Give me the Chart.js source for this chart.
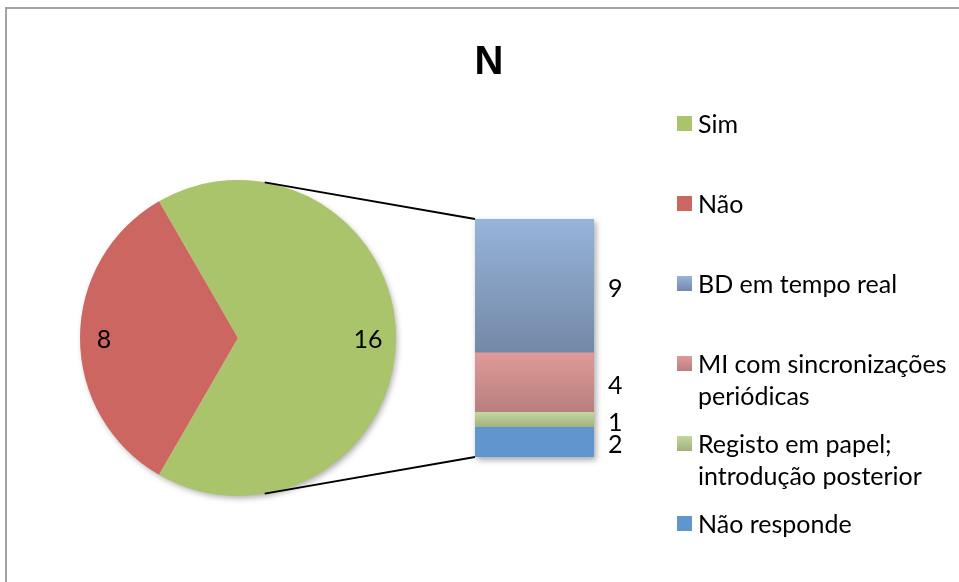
<!DOCTYPE html>
<html>
<head>
<meta charset="utf-8">
<script src="https://cdn.jsdelivr.net/npm/chart.js@4"></script>
<style>
  html, body { margin: 0; padding: 0; background: #fff; overflow: hidden; }
  #wrap { position: relative; width: 959px; height: 582px; overflow: hidden; font-family: Lato, "Open Sans", sans-serif; }
  #frame { position: absolute; left: 5px; top: 7px; width: 1000px; height: 1000px; border: 2px solid #a3a3a3; box-sizing: border-box; }
  canvas { position: absolute; left: 0; top: 0; }
  #title { position: absolute; left: 0; width: 978px; top: 38px; text-align: center; font: bold 40px "Liberation Sans", Arial, sans-serif; color: #000; }
  #legend { position: absolute; left: 677px; top: 107px; width: 282px; }
  .item { position: relative; height: 80px; }
  .box { position: absolute; left: 0; top: 9px; width: 15px; height: 15px; }
  .txt { position: absolute; left: 21px; top: 0; width: 261px; font-size: 25px; line-height: 32px; color: #000; }
</style>
</head>
<body>
<div id="wrap">
  <div id="frame"></div>
  <canvas id="pie" width="959" height="582"></canvas>
  <canvas id="bar" width="959" height="582"></canvas>
  <div id="title">N</div>
  <div id="legend"></div>
</div>
<script>
  // pie data
  const pieLabels = ["Sim", "Não"];
  const pieValues = [16, 8];
  const pieColors = ["#a9c46b", "#cc6660"];

  // bar data (bottom to top)
  const barLabels = ["Não responde", "Registo em papel; introdução posterior", "MI com sincronizações periódicas", "BD em tempo real"];
  const barValues = [2, 1, 4, 9];
  const barTop = ["#5e96cd", "#c4d79c", "#e09a98", "#97b4da"];
  const barBottom = ["#5e96cd", "#a2b07d", "#b77f7e", "#7388a7"];

  const font = "Lato, 'Open Sans', sans-serif";

  const setShadow = (ctx) => {
    ctx.shadowColor = "rgba(0,0,0,0.35)";
    ctx.shadowBlur = 6;
    ctx.shadowOffsetX = 2;
    ctx.shadowOffsetY = 3;
  };

  // soft shadow under the pie + value labels
  const piePlugin = {
    id: "pieExtras",
    beforeDatasetsDraw(chart) {
      const arc = chart.getDatasetMeta(0).data[0];
      const ctx = chart.ctx;
      ctx.save();
      setShadow(ctx);
      ctx.fillStyle = "#fff";
      ctx.beginPath();
      ctx.arc(arc.x, arc.y, arc.outerRadius - 1, 0, Math.PI * 2);
      ctx.fill();
      ctx.restore();
    },
    afterDatasetsDraw(chart) {
      const ctx = chart.ctx;
      ctx.save();
      ctx.font = "25px " + font;
      ctx.fillStyle = "#000";
      ctx.textAlign = "center";
      ctx.textBaseline = "middle";
      chart.getDatasetMeta(0).data.forEach((arc, i) => {
        const mid = (arc.startAngle + arc.endAngle) / 2;
        const r = arc.outerRadius * 0.835;
        ctx.fillText(String(pieValues[i]), arc.x + r * Math.cos(mid) - 2, arc.y + r * Math.sin(mid) + 2);
      });
      ctx.restore();
    }
  };

  const pieChart = new Chart(document.getElementById("pie"), {
    type: "pie",
    data: {
      labels: pieLabels,
      datasets: [{ data: pieValues, backgroundColor: pieColors, borderWidth: 0, hoverOffset: 0 }]
    },
    options: {
      responsive: false,
      animation: false,
      rotation: -30,
      layout: { padding: { left: 80, right: 563, top: 180, bottom: 86 } },
      plugins: { legend: { display: false }, tooltip: { enabled: false } }
    },
    plugins: [piePlugin]
  });

  // gradient fill for each stacked segment
  const segFill = (i) => (context) => {
    const chart = context.chart;
    if (!chart.chartArea) return barTop[i];
    const y = chart.scales.y;
    let start = 0;
    for (let k = 0; k < i; k++) start += barValues[k];
    const yb = y.getPixelForValue(start);
    const yt = y.getPixelForValue(start + barValues[i]);
    const g = chart.ctx.createLinearGradient(0, yt, 0, yb);
    g.addColorStop(0, barTop[i]);
    g.addColorStop(1, barBottom[i]);
    return g;
  };

  const stackEnds = (chart) => {
    const n = barValues.length;
    return { bot: chart.getDatasetMeta(0).data[0], top: chart.getDatasetMeta(n - 1).data[0] };
  };

  // bar shadow, value labels and connector lines to the pie
  const barExtras = {
    id: "barExtras",
    beforeDatasetsDraw(chart) {
      const { bot, top } = stackEnds(chart);
      const ctx = chart.ctx;
      ctx.save();
      setShadow(ctx);
      ctx.fillStyle = "#fff";
      ctx.fillRect(top.x - top.width / 2, top.y, top.width, bot.base - top.y);
      ctx.restore();
    },
    afterDatasetsDraw(chart) {
      const ctx = chart.ctx;
      ctx.save();
      ctx.font = "25px " + font;
      ctx.fillStyle = "#000";
      ctx.textAlign = "left";
      ctx.textBaseline = "middle";
      barValues.forEach((v, i) => {
        const el = chart.getDatasetMeta(i).data[0];
        ctx.fillText(String(v), el.x + el.width / 2 + 14, (el.y + el.base) / 2 + 3);
      });

      const { bot, top } = stackEnds(chart);
      const arc = pieChart.getDatasetMeta(0).data[0];
      const a1 = -Math.PI / 2 + 0.17;
      const a2 = Math.PI / 2 - 0.17;
      const left = top.x - top.width / 2;
      ctx.strokeStyle = "#000";
      ctx.lineWidth = 1.8;
      ctx.beginPath();
      ctx.moveTo(arc.x + arc.outerRadius * Math.cos(a1), arc.y + arc.outerRadius * Math.sin(a1));
      ctx.lineTo(left, top.y);
      ctx.moveTo(arc.x + arc.outerRadius * Math.cos(a2), arc.y + arc.outerRadius * Math.sin(a2));
      ctx.lineTo(left, bot.base);
      ctx.stroke();
      ctx.restore();
    }
  };

  new Chart(document.getElementById("bar"), {
    type: "bar",
    data: {
      labels: [""],
      datasets: barValues.map((v, i) => ({
        label: barLabels[i],
        data: [v],
        backgroundColor: segFill(i),
        borderWidth: 0,
        barPercentage: 1,
        categoryPercentage: 1
      }))
    },
    options: {
      responsive: false,
      animation: false,
      layout: { padding: { left: 475, right: 365, top: 219, bottom: 125 } },
      scales: {
        x: { stacked: true, display: false },
        y: { stacked: true, display: false, min: 0, max: 16 }
      },
      plugins: { legend: { display: false }, tooltip: { enabled: false } }
    },
    plugins: [barExtras]
  });

  // html legend: pie slices then bar segments top to bottom
  const legend = document.getElementById("legend");
  const items = [];
  pieLabels.forEach((l, i) => items.push({ label: l, bg: pieColors[i] }));
  for (let i = barLabels.length - 1; i >= 0; i--) {
    items.push({ label: barLabels[i], bg: "linear-gradient(" + barTop[i] + "," + barBottom[i] + ")" });
  }
  items.forEach((it) => {
    const d = document.createElement("div");
    d.className = "item";
    d.innerHTML = '<div class="box" style="background:' + it.bg + '"></div><div class="txt">' + it.label + "</div>";
    legend.appendChild(d);
  });
</script>
</body>
</html>
